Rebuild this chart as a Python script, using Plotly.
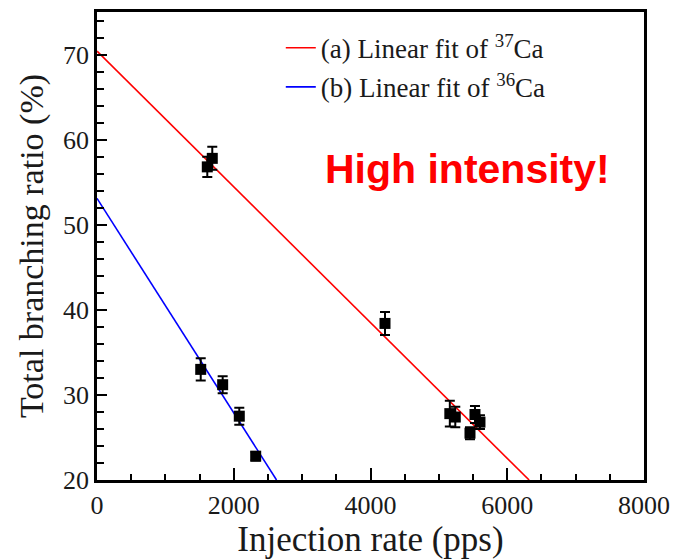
import plotly.graph_objects as go

# Measured total branching ratios (%) versus injection rate (pps)
ca37_rate = [1613, 1686, 4212, 5160, 5240, 5455, 5528, 5601]
ca37_ratio = [56.8, 57.8, 38.4, 27.8, 27.4, 25.5, 27.7, 26.8]
ca37_err = [1.2, 1.35, 1.35, 1.5, 1.2, 0.7, 1.0, 0.8]

ca36_rate = [1517, 1838, 2081, 2321]
ca36_ratio = [33.0, 31.2, 27.5, 22.8]
ca36_err = [1.3, 1.0, 1.0, 0.5]

# Linear fit lines, given by their end points
fit37_x = [0, 6320]
fit37_y = [70.4, 20.0]
fit36_x = [0, 2626]
fit36_y = [53.1, 20.0]

x_ticks = [0, 2000, 4000, 6000, 8000]
y_ticks = [20, 30, 40, 50, 60, 70]

SERIF = "Liberation Serif"
INK = "#1a1a1a"

fig = go.Figure()

fig.add_trace(go.Scatter(
    x=fit37_x, y=fit37_y, mode="lines",
    line=dict(color="#ff0000", width=1.6),
    name="(a) Linear fit of <sup>37</sup>Ca", legendgroup="a",
))
fig.add_trace(go.Scatter(
    x=fit36_x, y=fit36_y, mode="lines",
    line=dict(color="#0000ff", width=1.6),
    name="(b) Linear fit of <sup>36</sup>Ca", legendgroup="b",
))

for xs, ys, es in [(ca37_rate, ca37_ratio, ca37_err), (ca36_rate, ca36_ratio, ca36_err)]:
    fig.add_trace(go.Scatter(
        x=xs, y=ys, mode="markers", showlegend=False,
        marker=dict(symbol="square", size=11, color="black"),
        error_y=dict(type="data", array=es, visible=True,
                     color="black", thickness=2, width=5),
    ))

fig.add_annotation(
    text="High intensity!", xref="paper", yref="paper",
    x=0.678, y=0.665, xanchor="center", yanchor="middle", showarrow=False,
    font=dict(family="Liberation Sans", size=41, color="#ff0000", weight="bold"),
)

axis_common = dict(
    showline=True, linecolor="black", linewidth=2.5, mirror=True,
    showgrid=False, zeroline=False,
    ticks="inside", tickcolor="black", tickwidth=2,
    tickfont=dict(family=SERIF, size=26, color=INK),
)

fig.update_xaxes(
    range=[x_ticks[0], x_ticks[-1]], tickmode="linear",
    tick0=x_ticks[0], dtick=x_ticks[1] - x_ticks[0], ticklen=12,
    minor=dict(tickmode="linear", tick0=0, dtick=500, ticks="inside",
               ticklen=6, tickwidth=2, tickcolor="black"),
    title=dict(text="Injection rate (pps)", font=dict(family=SERIF, size=35, color=INK),
               standoff=6),
    **axis_common,
)
fig.update_yaxes(
    range=[20, 75], tickmode="linear",
    tick0=y_ticks[0], dtick=y_ticks[1] - y_ticks[0], ticklen=10,
    minor=dict(tickmode="linear", tick0=0, dtick=2, ticks="inside",
               ticklen=7, tickwidth=2, tickcolor="black"),
    title=dict(text="Total branching ratio (%)", font=dict(family=SERIF, size=34, color=INK),
               standoff=10),
    **axis_common,
)

fig.update_layout(
    width=679, height=559,
    margin=dict(l=97, r=35, t=9, b=75),
    paper_bgcolor="white", plot_bgcolor="white",
    showlegend=True,
    legend=dict(
        x=0.336, y=0.975, xanchor="left", yanchor="top",
        bgcolor="rgba(0,0,0,0)", borderwidth=0,
        font=dict(family=SERIF, size=27, color=INK),
        traceorder="grouped", tracegroupgap=1,
    ),
)

fig.write_html("out.html")
